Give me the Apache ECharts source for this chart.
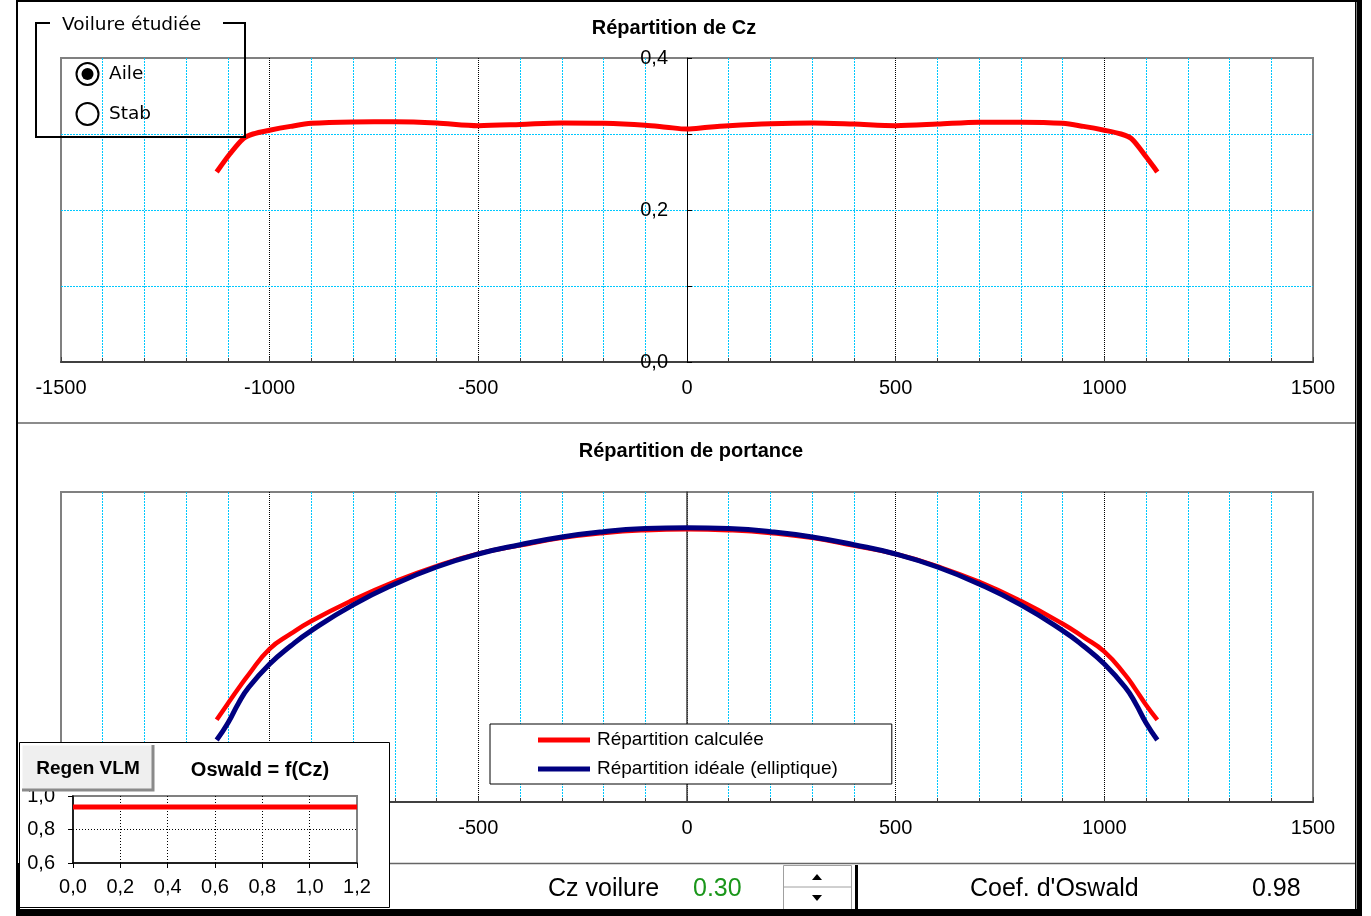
<!DOCTYPE html>
<html><head><meta charset="utf-8">
<script src="https://cdn.jsdelivr.net/npm/echarts@6/dist/echarts.min.js"></script>
<style>html,body{margin:0;padding:0;background:#fff}#c{width:1371px;height:916px}</style>
</head><body><div id="c"></div>
<script>
// ---- data ----
const spanX = [-1127,-1095,-1063,-1040,-1000,-950,-900,-800,-700,-600,-500,-400,-300,-200,-100,-50,0,50,100,200,300,400,500,600,700,800,900,950,1000,1040,1065,1100,1127];
const czValues = [0.250,0.274,0.294,0.300,0.305,0.310,0.314,0.3158,0.316,0.3145,0.311,0.3125,0.3145,0.314,0.3115,0.309,0.3065,0.309,0.311,0.3135,0.3145,0.313,0.311,0.313,0.3155,0.3155,0.314,0.310,0.305,0.300,0.294,0.270,0.250];
const liftX = [-1127,-1100,-1075,-1050,-1000,-950,-900,-800,-700,-600,-500,-400,-300,-200,-100,0,100,200,300,400,500,600,700,800,900,950,1000,1050,1075,1100,1127];
const liftCalc = [0.265,0.318,0.366,0.412,0.494,0.542,0.584,0.652,0.711,0.761,0.801,0.828,0.852,0.868,0.877,0.880,0.877,0.868,0.852,0.827,0.800,0.760,0.710,0.648,0.575,0.532,0.485,0.410,0.363,0.313,0.265];
const liftIdeal = [0.200,0.255,0.318,0.370,0.445,0.503,0.553,0.636,0.703,0.758,0.800,0.830,0.855,0.872,0.882,0.885,0.882,0.872,0.855,0.830,0.800,0.758,0.703,0.636,0.553,0.503,0.445,0.370,0.318,0.255,0.200];
const oswaldCz = [0,0.2,0.4,0.6,0.8,1.0,1.2];
const oswaldCoef = [0.935,0.935,0.935,0.935,0.935,0.935,0.935];
const czTickLabels = ['0,0','0,2','0,4'];
const seriesNames = ['Répartition calculée','Répartition idéale (elliptique)'];

const FONT = "'Liberation Sans', Arial, sans-serif";
const CYAN = '#00c8ff';
const ZERO_OFFSET = -626; // y axes drawn on the x = 0 span station

function spanAxis(g){
  return {type:'value', gridIndex:g, min:-1500, max:1500, interval:500,
    axisLine:{onZero:true, lineStyle:{color:'#404040', width:2}},
    axisTick:{show:true, inside:true, length:5, lineStyle:{color:'#404040'}},
    minorTick:{show:true, splitNumber:5, length:4, lineStyle:{color:'#404040'}},
    axisLabel:{fontSize:20, color:'#000', fontFamily:FONT, margin:16, formatter:v=>String(v)},
    splitLine:{show:true, showMinLine:false, showMaxLine:false, lineStyle:{color:'#000', type:[1,1], width:1}},
    minorSplitLine:{show:true, lineStyle:{color:CYAN, type:[2,1], width:1}}
  };
}
function txt(t, x, y, font, align, fill, z){
  return {type:'text', z:z||50, style:{text:t, x:x, y:y, font:font, fill:fill||'#000',
    textAlign:align||'left', textVerticalAlign:'middle', align:align||'left', verticalAlign:'middle'}};
}
function rect(x,y,w,h,fill,z,stroke,lw){
  return {type:'rect', z:z||50, shape:{x:x,y:y,width:w,height:h}, style:{fill:fill, stroke:stroke||null, lineWidth:lw||0}};
}
function pl(points, stroke, lw, z){
  return {type:'polyline', z:z||50, shape:{points:points}, style:{stroke:stroke, lineWidth:lw, fill:null}};
}

const chart = echarts.init(document.getElementById('c'));
chart.setOption({
  animation:false,
  backgroundColor:'#fff',
  grid:[
    {left:61, top:58, width:1252, height:304, show:true, borderColor:'#808080', borderWidth:2, backgroundColor:'transparent'},
    {left:61, top:492, width:1252, height:310, show:true, borderColor:'#808080', borderWidth:2, backgroundColor:'transparent'},
    {left:73, top:796, width:284, height:67, show:true, borderColor:'#808080', borderWidth:2, backgroundColor:'transparent', z:30}
  ],
  xAxis:[
    spanAxis(0),
    spanAxis(1),
    {type:'value', gridIndex:2, min:0, max:1.2, interval:0.2, z:30,
      axisLine:{lineStyle:{color:'#000', width:1.5}},
      axisTick:{show:true, length:5, lineStyle:{color:'#000'}},
      axisLabel:{fontSize:20, color:'#000', fontFamily:FONT, margin:14, formatter:v=>v.toFixed(1).replace('.',',')},
      splitLine:{show:true, showMinLine:false, showMaxLine:false, lineStyle:{color:'#000', type:[1,2]}}}
  ],
  yAxis:[
    {type:'value', gridIndex:0, min:0, max:0.4, interval:0.2, offset:ZERO_OFFSET, z:3,
      axisLine:{show:true, onZero:false, lineStyle:{color:'#000', width:1}},
      axisTick:{show:true, inside:true, length:5, lineStyle:{color:'#000'}},
      minorTick:{show:true, splitNumber:2, length:5, lineStyle:{color:'#000'}},
      axisLabel:{fontSize:20, color:'#000', fontFamily:FONT, margin:19, formatter:v=>czTickLabels[Math.round(v/0.2)]},
      splitLine:{show:true, showMinLine:false, showMaxLine:false, lineStyle:{color:CYAN, type:[2,1]}},
      minorSplitLine:{show:true, lineStyle:{color:CYAN, type:[2,1]}}},
    {type:'value', gridIndex:1, min:0, max:1, offset:ZERO_OFFSET, z:3,
      axisLine:{show:true, onZero:false, lineStyle:{color:'#404040', width:1.5}},
      axisTick:{show:false}, axisLabel:{show:false}, splitLine:{show:false}},
    {type:'value', gridIndex:2, min:0.6, max:1.0, interval:0.2, z:30,
      axisLine:{show:true, lineStyle:{color:'#000', width:1.5}},
      axisTick:{show:true, length:5, lineStyle:{color:'#000'}},
      axisLabel:{fontSize:20, color:'#000', fontFamily:FONT, margin:18, formatter:v=>v.toFixed(1).replace('.',',')},
      splitLine:{show:true, showMinLine:false, showMaxLine:false, lineStyle:{color:'#000', type:[1,2]}}}
  ],
  legend:{
    data:seriesNames, left:490, top:724, orient:'vertical', icon:'rect',
    itemWidth:52, itemHeight:5, itemGap:9, padding:[6,54,5,48],
    backgroundColor:'#fff', borderColor:'#000', borderWidth:1,
    textStyle:{fontSize:19, fontFamily:FONT, color:'#000', lineHeight:20, padding:[0,0,0,2]}
  },
  series:[
    {type:'line', xAxisIndex:0, yAxisIndex:0, data:spanX.map((x,i)=>[x,czValues[i]]), smooth:0.3, symbol:'none',
      lineStyle:{color:'#ff0000', width:5}, itemStyle:{color:'#ff0000'}},
    {type:'line', name:seriesNames[0], xAxisIndex:1, yAxisIndex:1, data:liftX.map((x,i)=>[x,liftCalc[i]]), smooth:0.5, symbol:'none',
      lineStyle:{color:'#ff0000', width:4.5}, itemStyle:{color:'#ff0000'}},
    {type:'line', name:seriesNames[1], xAxisIndex:1, yAxisIndex:1, data:liftX.map((x,i)=>[x,liftIdeal[i]]), smooth:0.5, symbol:'none',
      lineStyle:{color:'#000080', width:5}, itemStyle:{color:'#000080'}},
    {type:'line', xAxisIndex:2, yAxisIndex:2, z:31, data:oswaldCz.map((x,i)=>[x,oswaldCoef[i]]), symbol:'none',
      lineStyle:{color:'#ff0000', width:5}, itemStyle:{color:'#ff0000'}}
  ],
  graphic:{elements:[
    // titles
    txt('Répartition de Cz', 674, 28, 'bold 20px '+FONT, 'center'),
    txt('Répartition de portance', 691, 451, 'bold 20px '+FONT, 'center'),
    // separators
    pl([[16,423],[1356,423]], '#666', 1.5, 10),
    pl([[389,863.5],[1356,863.5]], '#666', 1.5, 10),
    // group box
    pl([[50,23],[36,23],[36,137],[245,137],[245,23],[223,23]], '#000', 2, 50),
    txt('Voilure étudiée', 62, 25, "18.5px 'DejaVu Sans', sans-serif", 'left'),
    {type:'circle', z:50, shape:{cx:87.5, cy:74, r:11}, style:{fill:'#fff', stroke:'#000', lineWidth:2}},
    {type:'circle', z:51, shape:{cx:87.5, cy:74, r:6}, style:{fill:'#000'}},
    {type:'circle', z:50, shape:{cx:87.5, cy:114, r:11}, style:{fill:'#fff', stroke:'#000', lineWidth:2}},
    txt('Aile', 109, 74, "18.5px 'DejaVu Sans', sans-serif", 'left'),
    txt('Stab', 109, 114, "18.5px 'DejaVu Sans', sans-serif", 'left'),
    // inset box
    rect(19.5, 742.5, 370, 165, '#fff', 20, '#000', 1),
    rect(22, 745, 131, 46, '#efefef', 40),
    pl([[22,790],[22,745],[153,745]], '#fff', 1, 41),
    pl([[22,790],[153,790],[153,745]], '#8a8a8a', 3, 41),
    txt('Regen VLM', 88, 769, 'bold 19px '+FONT, 'center', '#000', 42),
    txt('Oswald = f(Cz)', 260, 770, 'bold 20px '+FONT, 'center', '#000', 42),
    // bottom strip
    txt('Cz voilure', 548, 889, '25px '+FONT, 'left'),
    txt('0.30', 693, 889, '25px '+FONT, 'left', '#1a961a'),
    rect(783.5, 865.5, 68, 44, '#fff', 45, '#a0a0a0', 1),
    pl([[784,887],[851,887]], '#a0a0a0', 1, 46),
    {type:'polygon', z:47, shape:{points:[[812,880],[822,880],[817,874]]}, style:{fill:'#000'}},
    {type:'polygon', z:47, shape:{points:[[812,895],[822,895],[817,901]]}, style:{fill:'#000'}},
    rect(855, 865, 3, 46, '#000', 47),
    txt("Coef. d'Oswald", 970, 889, '25px '+FONT, 'left'),
    txt('0.98', 1252, 889, '25px '+FONT, 'left'),
    // outer frame
    rect(16, 0, 1341, 2, '#000', 60),
    rect(16, 0, 2, 916, '#000', 60),
    rect(16, 863, 4, 53, '#000', 60),
    rect(1355, 0, 1.5, 910, '#000', 60),
    rect(1357, 0, 5, 916, '#000', 60),
    rect(16, 909, 1346, 7, '#000', 60)
  ]}
});
</script></body></html>
